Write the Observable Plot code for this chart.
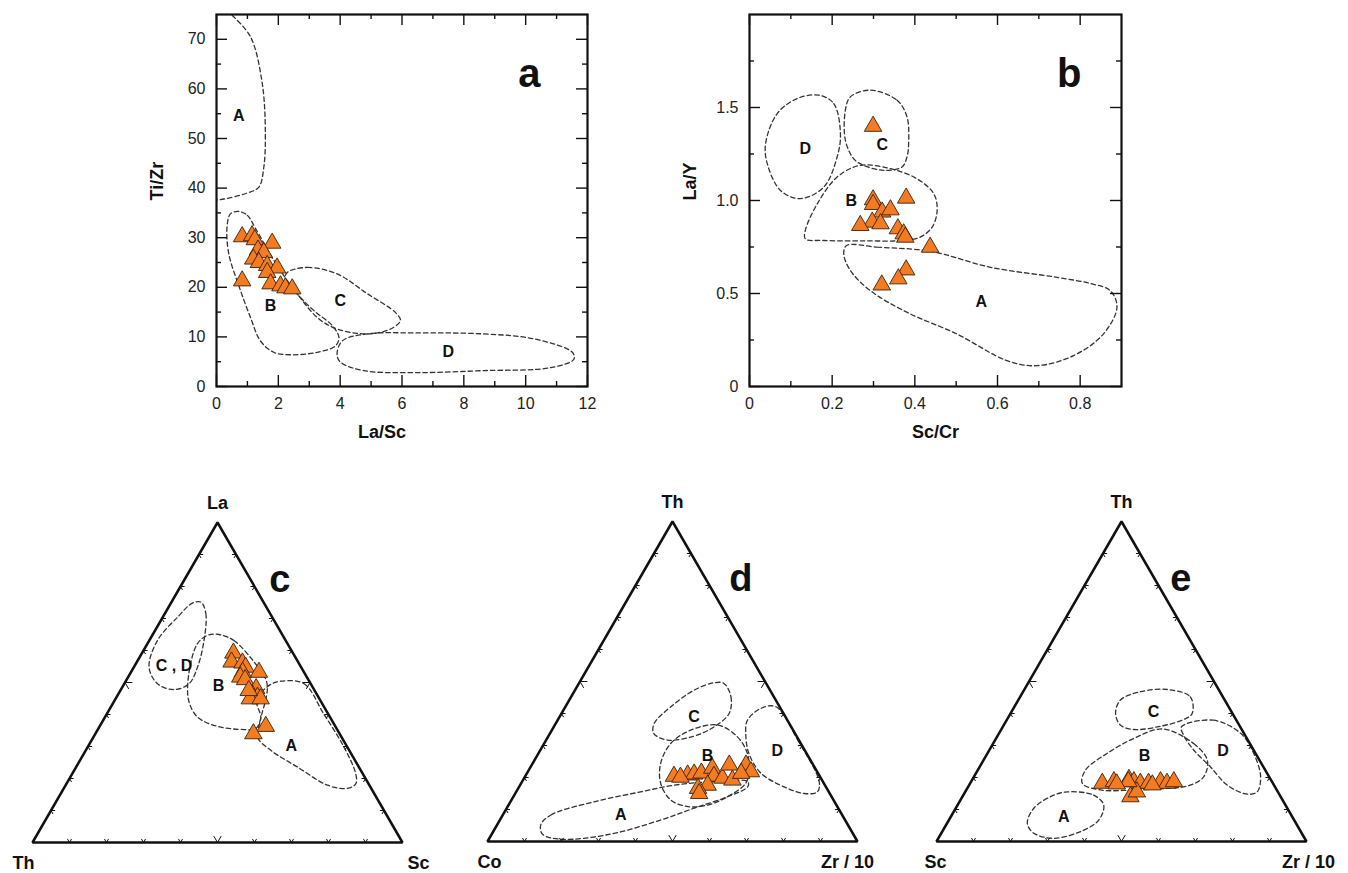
<!DOCTYPE html>
<html><head><meta charset="utf-8">
<script src="https://cdn.jsdelivr.net/npm/d3@7"></script>
<script src="https://cdn.jsdelivr.net/npm/@observablehq/plot@0.6"></script>
<style>
html,body{margin:0;padding:0;background:#fff;}
body{width:1348px;height:873px;position:relative;overflow:hidden;font-family:"Liberation Sans",Arial,Helvetica,sans-serif;}
.panel{position:absolute;}
</style></head><body>
<div id="pa" class="panel" style="left:130px;top:0px"></div>
<div id="pb" class="panel" style="left:670px;top:0px"></div>
<div id="pc" class="panel" style="left:0px;top:490px"></div>
<div id="pd" class="panel" style="left:450px;top:489px"></div>
<div id="pe" class="panel" style="left:900px;top:489px"></div>
<script>
// ---------- Panel a: La/Sc vs Ti/Zr ----------
const aLaSc = [0.83,1.15,1.24,1.80,1.34,1.53,1.19,1.37,1.64,1.96,1.64,1.75,2.07,2.23,2.45,0.83];
const aTiZr = [30.2,30.4,29.6,28.9,27.5,27.0,25.7,25.0,24.4,23.9,23.0,20.7,20.3,19.9,19.7,21.3];
const aFieldA = [[0.51,74.8],[1.10,70.5],[1.48,61.1],[1.58,51.0],[1.53,44.2],[1.37,40.2],[0.99,39.0],[0.24,37.8],[0,37.6]];
const aFieldB = [[0.72,35.3],[1.0,34.5],[1.25,32],[1.9,25],[2.61,18.7],[3.15,15.3],[3.74,12.3],[3.96,9.9],[3.85,8.2],[3.26,6.9],[2.39,6.4],[1.85,6.9],[1.42,9.2],[1.10,13.9],[0.74,20.0],[0.40,26.7],[0.34,32.1],[0.45,34.8]];
const aFieldC = [[2.29,23.0],[2.94,24.0],[3.90,22.7],[4.88,18.7],[5.79,14.9],[5.95,13.3],[5.63,11.6],[4.88,10.6],[3.90,11.6],[3.26,13.9],[2.61,18.7],[2.23,21.7]];
const aFieldD = [[3.90,6.5],[4.07,9.2],[4.88,10.6],[6.49,10.8],[8.65,10.6],[10.27,9.6],[11.51,6.9],[11.56,5.5],[10.81,3.8],[8.65,3.2],[6.49,2.8],[4.77,3.2],[4.01,4.9]];
const aLabelText = ["A","B","C","D"];
const aLabelX = [0.72,1.75,4.0,7.5];
const aLabelY = [54.6,16.2,17.3,6.9];
const aXTicks = [0,2,4,6,8,10,12];
const aXMinor = [1,3,5,7,9,11];
const aYTicks = [0,10,20,30,40,50,60,70];
const aYMinor = [5,15,25,35,45,55,65];

// ---------- Panel b: Sc/Cr vs La/Y ----------
const bScCr = [0.299,0.299,0.299,0.379,0.321,0.341,0.297,0.317,0.268,0.359,0.373,0.377,0.437,0.379,0.360,0.320];
const bLaY  = [1.399,1.004,0.979,1.013,0.938,0.950,0.884,0.875,0.866,0.848,0.821,0.803,0.749,0.627,0.579,0.546];
const bFieldD = [[0.168,1.566],[0.204,1.521],[0.220,1.359],[0.212,1.234],[0.180,1.073],[0.123,1.010],[0.075,1.054],[0.043,1.198],[0.039,1.306],[0.067,1.467],[0.115,1.548]];
const bFieldC = [[0.292,1.593],[0.357,1.539],[0.381,1.450],[0.385,1.306],[0.381,1.234],[0.369,1.180],[0.325,1.162],[0.276,1.189],[0.252,1.225],[0.232,1.324],[0.232,1.486],[0.244,1.557]];
const bFieldB = [[0.268,1.189],[0.341,1.171],[0.405,1.117],[0.446,1.036],[0.454,0.947],[0.442,0.857],[0.413,0.803],[0.373,0.785],[0.28,0.783],[0.180,0.785],[0.135,0.794],[0.135,0.839],[0.164,0.982],[0.212,1.126]];
const bFieldA = [[0.235,0.758],[0.309,0.749],[0.438,0.727],[0.583,0.641],[0.744,0.587],[0.824,0.554],[0.873,0.515],[0.889,0.426],[0.856,0.282],[0.784,0.166],[0.695,0.112],[0.623,0.139],[0.502,0.282],[0.381,0.399],[0.292,0.516],[0.244,0.624],[0.228,0.714]];
const bLabelText = ["D","C","B","A"];
const bLabelX = [0.135,0.321,0.246,0.561];
const bLabelY = [1.279,1.297,1.0,0.453];
const bXTicks = [0,0.2,0.4,0.6,0.8];
const bXMinor = [0.1,0.3,0.5,0.7];
const bYTicks = [0,0.5,1.0,1.5];
const bYMinor = [0.25,0.75,1.25,1.75];

// ---------- Ternary c: La (top) – Th (left) – Sc (right), [top, left, right] % ----------
const cSamples = [[59.2,16.1,24.7],[56.4,18.0,25.6],[56.1,15.2,28.7],[54.8,15.0,30.2],[53.2,12.2,34.6],[53.2,16.6,30.2],[51.7,18.0,30.3],[50.9,17.1,32.0],[48.1,15.5,36.4],[46.0,17.5,36.5],[45.4,16.5,38.1],[44.9,18.8,36.3],[44.9,15.9,39.2],[36.3,18.8,44.9],[34.0,23.3,42.7],[47.5,17.8,34.7]];
const cFieldCD = [[75.1,16.9,8.0],[71.5,17.4,11.1],[63.1,22.1,14.8],[54.8,28.0,17.2],[49.6,32.9,17.5],[47.8,37.8,14.4],[49.6,41.4,9.0],[54.8,41.1,4.1],[63.1,34.7,2.2],[70.4,25.6,4.0],[74.8,19.4,5.8]];
const cFieldB = [[65.0,17.1,17.9],[63.1,14.0,22.9],[56.4,11.9,31.7],[50.7,11.5,37.8],[47.5,12.8,39.7],[41.3,17.1,41.6],[35.6,21.8,42.6],[35.3,25.1,39.6],[36.3,31.9,31.8],[39.2,35.8,25.0],[44.4,35.6,20.0],[52.7,31.4,15.9],[62.1,24.4,13.5],[64.7,20.4,14.9]];
const cFieldA = [[50.4,7.7,41.9],[49.6,1.8,48.6],[40.3,1.2,58.5],[29.8,0.9,69.3],[21.5,1.9,76.6],[18.4,3.4,78.2],[16.9,6.4,76.7],[17.9,11.3,70.8],[23.6,16.6,59.8],[28.8,21.2,50.0],[33.0,22.7,44.3],[39.2,18.7,42.1],[44.4,17.2,38.4],[49.1,11.5,39.4]];
const cLabelText = ["C , D","B","A"];
const cLabelPos = [[55.3,34.1,10.6],[48.9,25.3,25.8],[30.1,15.0,54.9]];
const cVertices = ["La","Th","Sc"];

// ---------- Ternary d: Th (top) – Co (left) – Zr/10 (right) ----------
const dSamples = [[20.4,39.4,40.2],[20.8,35.5,43.7],[21.1,33.6,45.3],[21.4,31.5,47.1],[22.9,27.8,49.3],[20.4,28.6,51.0],[19.8,26.6,53.6],[23.9,22.7,53.4],[19.2,24.2,56.6],[23.9,18.2,57.9],[21.8,17.9,60.3],[21.3,20.8,57.9],[17.6,31.7,50.7],[16.6,34.8,48.6],[15.0,35.3,49.7],[20.1,37.8,42.1]];
const dFieldC = [[49.4,11.4,39.2],[45.2,11.6,43.2],[40.0,14.7,45.3],[35.8,20.9,43.3],[32.9,27.8,39.3],[31.7,35.5,32.8],[33.8,38.2,28.0],[36.9,36.5,26.6],[42.1,29.4,28.5],[47.3,20.5,32.2],[49.6,14.0,36.4]];
const dFieldB = [[36.4,19.6,44.0],[32.7,16.1,51.2],[27.5,16.0,56.5],[22.3,18.2,59.5],[18.2,21.1,60.7],[14.0,28.1,57.9],[11.4,34.8,53.8],[10.9,40.4,48.7],[13.0,44.0,43.0],[18.2,44.1,37.7],[24.4,41.0,34.6],[30.6,35.2,34.2],[34.8,27.7,37.5]];
const dFieldD = [[42.1,1.0,56.9],[31.7,0.3,68.0],[18.7,1.0,80.3],[15.5,3.1,81.4],[15.0,6.9,78.1],[16.6,10.6,72.8],[21.3,15.4,63.3],[27.5,15.6,56.9],[33.8,13.3,52.9],[37.9,10.8,51.3],[41.6,5.3,53.1]];
const dFieldA = [[5.2,83.0,11.8],[8.3,78.7,13.0],[12.4,65.0,22.6],[15.5,50.9,33.6],[17.6,40.8,41.6],[18.7,29.4,51.9],[18.7,20.3,61.0],[17.1,21.1,61.8],[14.0,28.1,57.9],[10.4,39.0,50.6],[6.7,49.9,43.4],[2.3,65.6,32.1],[0.7,79.8,19.5],[2.3,84.0,13.7]];
const dLabelText = ["C","B","D","A"];
const dLabelPos = [[39.0,24.7,36.3],[26.7,27.2,46.1],[28.3,7.5,64.2],[8.3,59.8,31.9]];
const dVertices = ["Th","Co","Zr / 10"];

// ---------- Ternary e: Th (top) – Sc (left) – Zr/10 (right) ----------
const eSamples = [[18.2,46.1,35.7],[18.7,42.7,38.6],[19.4,38.3,42.3],[18.7,37.3,44.0],[18.2,35.8,46.0],[18.2,33.6,48.2],[18.7,30.1,51.2],[18.2,28.6,53.2],[18.7,26.5,54.8],[14.0,40.6,45.4],[15.5,38.1,46.4],[18.7,38.8,42.5],[18.0,42.3,39.7],[17.7,32.8,49.5]];
const eFieldC = [[47.5,13.9,38.6],[45.2,8.8,46.0],[40.0,10.9,49.1],[38.1,14.2,47.7],[36.0,21.5,42.5],[35.0,29.2,35.8],[36.4,32.1,31.5],[40.0,31.6,28.4],[44.2,28.2,27.6],[46.8,21.5,31.7]];
const eFieldB = [[34.8,21.1,43.1],[30.6,15.2,54.2],[25.4,14.1,60.5],[20.2,17.7,62.1],[17.6,22.6,59.8],[16.6,29.3,54.1],[16.1,38.6,45.3],[16.1,47.6,36.3],[18.2,51.5,30.3],[22.3,48.6,29.1],[27.5,40.2,32.3],[32.2,30.6,37.2]];
const eFieldD = [[35.8,15.9,48.3],[37.9,6.2,55.9],[33.8,0.9,65.3],[27.5,0.5,72.0],[20.2,2.3,77.5],[15.5,5.6,78.9],[14.8,8.6,76.6],[17.6,12.6,69.8],[23.3,14.3,62.4],[28.6,16.2,55.2],[33.2,16.6,50.2]];
const eFieldA = [[15.5,57.0,27.5],[14.5,50.3,35.2],[11.4,49.1,39.5],[6.7,52.8,40.5],[3.1,59.5,37.4],[1.0,67.8,31.2],[2.6,72.4,25.0],[5.7,72.6,21.7],[10.4,68.5,21.1],[14.0,62.2,23.8]];
const eLabelText = ["C","B","D","A"];
const eLabelPos = [[40.5,21.1,38.4],[26.7,30.4,42.9],[28.3,8.4,63.3],[7.6,61.8,30.6]];
const eVertices = ["Th","Sc","Zr / 10"];

const ternTicks = [10,20,30,40,50,60,70,80,90];

// ---------- styles ----------
const FONT = '"Liberation Sans", Arial, Helvetica, sans-serif';
const INK = "#111";
const DASH = "#333";
const ORANGE = "#f47b20";
const EDGE = "#3a2210";

function fieldLine(pts, fx, fy, open) {
  return Plot.line(pts, {x: fx, y: fy, curve: open ? "catmull-rom" : "catmull-rom-closed",
    stroke: DASH, strokeWidth: 1.3, strokeDasharray: "4.5,3", clip: true});
}

function scatterPanel(cfg) {
  const width = 480, height = 460, mt = 14, mb = 74;
  const W = width - cfg.ml - cfg.mr, H = height - mt - mb;
  const tk = {stroke: INK, strokeWidth: 1.4};
  const pts = cfg.xs.map((x, i) => ({x, y: cfg.ys[i]}));
  const labs = cfg.labelText.map((t, i) => ({t, x: cfg.labelX[i], y: cfg.labelY[i]}));
  return Plot.plot({
    width, height, marginLeft: cfg.ml, marginRight: cfg.mr, marginTop: mt, marginBottom: mb,
    style: {fontFamily: FONT, fontSize: "16px", color: INK, background: "transparent"},
    x: {domain: cfg.xDomain}, y: {domain: cfg.yDomain},
    marks: [
      ...cfg.fields.map(f => fieldLine(f.pts, d => d[0], d => d[1], f.open)),
      Plot.tickX(cfg.xMajor, {x: d => d, insetTop: H - 11, ...tk}),
      Plot.tickX(cfg.xMajor, {x: d => d, insetBottom: H - 11, ...tk}),
      Plot.tickX(cfg.xMinor, {x: d => d, insetTop: H - 5, ...tk}),
      Plot.tickX(cfg.xMinor, {x: d => d, insetBottom: H - 5, ...tk}),
      Plot.tickY(cfg.yMajor, {y: d => d, insetRight: W - 11, ...tk}),
      Plot.tickY(cfg.yMajor, {y: d => d, insetLeft: W - 11, ...tk}),
      Plot.tickY(cfg.yMinor, {y: d => d, insetRight: W - 5, ...tk}),
      Plot.tickY(cfg.yMinor, {y: d => d, insetLeft: W - 5, ...tk}),
      Plot.axisX(cfg.xMajor, {tickSize: 0, tickPadding: 11, tickFormat: cfg.fmt, label: null, fill: "#222", fontSize: 16}),
      Plot.axisY(cfg.yMajor, {tickSize: 0, tickPadding: 11, tickFormat: cfg.fmt, label: null, fill: "#222", fontSize: 16}),
      Plot.frame({stroke: INK, strokeWidth: 2.2}),
      Plot.dot(pts, {x: "x", y: "y", symbol: "triangle", r: 6.5, fill: ORANGE, stroke: EDGE, strokeWidth: 0.9}),
      Plot.text(labs, {x: "x", y: "y", text: "t", fontSize: 16, fontWeight: "bold", fill: INK}),
      Plot.text([cfg.letter], {frameAnchor: "top-right", dx: cfg.letterDx, dy: 44, fontSize: 40, fontWeight: "bold", fill: INK}),
      Plot.text([cfg.xTitle], {frameAnchor: "bottom", dx: cfg.xTitleDx, dy: 51, fontSize: 18, fontWeight: "bold", fill: INK}),
      Plot.text([cfg.yTitle], {frameAnchor: "left", dx: -59, rotate: -90, fontSize: 18, fontWeight: "bold", fill: INK})
    ]
  });
}

const S3 = Math.sqrt(3) / 2;
function tern([t, l, r]) { const s = t + l + r; return {x: (r + t / 2) / s, y: (t / s) * S3}; }

function ternaryPanel(cfg) {
  const width = cfg.width, height = 383, ml = cfg.ml, side = 370;
  const segs = [];
  for (const v of ternTicks) {
    const f = v / 100, L = v === 50 ? 0.02 : 0.011;
    const edges = [
      {p: [f, 0], dirs: [[0.5, S3], [-0.5, S3]]},
      {p: [f / 2, f * S3], dirs: [[1, 0], [0.5, -S3]]},
      {p: [1 - f / 2, f * S3], dirs: [[-1, 0], [-0.5, -S3]]}
    ];
    for (const e of edges) for (const d of e.dirs)
      segs.push({x1: e.p[0], y1: e.p[1], x2: e.p[0] + d[0] * L, y2: e.p[1] + d[1] * L});
  }
  const verts = [[100, 0, 0], [0, 100, 0], [0, 0, 100]].map(tern);
  const vtx = (i, dx, dy) => Plot.text([{...verts[i], t: cfg.vertices[i]}],
    {x: "x", y: "y", text: "t", dx, dy, fontSize: 18, fontWeight: "bold", fill: INK});
  const labs = cfg.labelText.map((t, i) => ({...tern(cfg.labelPos[i]), t}));
  return Plot.plot({
    width, height, marginLeft: ml, marginRight: width - ml - side, marginTop: 32, marginBottom: 31,
    style: {fontFamily: FONT, fontSize: "16px", color: INK, background: "transparent"},
    x: {domain: [0, 1], axis: null}, y: {domain: [0, S3], axis: null},
    marks: [
      ...cfg.fields.map(f => fieldLine(f.map(tern), "x", "y", false)),
      Plot.line(verts, {x: "x", y: "y", curve: "linear-closed", stroke: INK, strokeWidth: 2.5, strokeLinejoin: "miter"}),
      Plot.link(segs, {x1: "x1", y1: "y1", x2: "x2", y2: "y2", stroke: INK, strokeWidth: 1}),
      Plot.dot(cfg.samples.map(tern), {x: "x", y: "y", symbol: "triangle", r: 6.5, fill: ORANGE, stroke: EDGE, strokeWidth: 0.9}),
      Plot.text(labs, {x: "x", y: "y", text: "t", fontSize: 16, fontWeight: "bold", fill: INK}),
      vtx(0, 0, -19), vtx(1, cfg.leftDx, 21), vtx(2, cfg.rightDx, 21),
      Plot.text([cfg.letter], {frameAnchor: "top-right", dx: cfg.letterDx, dy: 43, fontSize: 38, fontWeight: "bold", fill: INK})
    ]
  });
}

const fmtA = d => String(d);
const fmtB = d => d === 0 ? "0" : d.toFixed(1);

document.getElementById("pa").append(scatterPanel({
  ml: 86, mr: 23, xDomain: [0, 12], yDomain: [0, 75],
  xMajor: aXTicks, xMinor: aXMinor, yMajor: aYTicks, yMinor: aYMinor, fmt: fmtA,
  xs: aLaSc, ys: aTiZr,
  fields: [{pts: aFieldA, open: true}, {pts: aFieldB}, {pts: aFieldC}, {pts: aFieldD}],
  labelText: aLabelText, labelX: aLabelX, labelY: aLabelY,
  letter: "a", letterDx: -47, xTitle: "La/Sc", xTitleDx: -20, yTitle: "Ti/Zr"
}));
document.getElementById("pb").append(scatterPanel({
  ml: 79, mr: 29, xDomain: [0, 0.9], yDomain: [0, 2],
  xMajor: bXTicks, xMinor: bXMinor, yMajor: bYTicks, yMinor: bYMinor, fmt: fmtB,
  xs: bScCr, ys: bLaY,
  fields: [{pts: bFieldD}, {pts: bFieldC}, {pts: bFieldB}, {pts: bFieldA}],
  labelText: bLabelText, labelX: bLabelX, labelY: bLabelY,
  letter: "b", letterDx: -40, xTitle: "Sc/Cr", xTitleDx: 0, yTitle: "La/Y"
}));
document.getElementById("pc").append(ternaryPanel({
  width: 440, ml: 32, samples: cSamples, fields: [cFieldCD, cFieldB, cFieldA],
  labelText: cLabelText, labelPos: cLabelPos, vertices: cVertices,
  leftDx: -9, rightDx: 16, letter: "c", letterDx: -112
}));
document.getElementById("pd").append(ternaryPanel({
  width: 440, ml: 37, samples: dSamples, fields: [dFieldC, dFieldB, dFieldD, dFieldA],
  labelText: dLabelText, labelPos: dLabelPos, vertices: dVertices,
  leftDx: 2, rightDx: -10, letter: "d", letterDx: -105
}));
document.getElementById("pe").append(ternaryPanel({
  width: 448, ml: 36, samples: eSamples, fields: [eFieldC, eFieldB, eFieldD, eFieldA],
  labelText: eLabelText, labelPos: eLabelPos, vertices: eVertices,
  leftDx: -1, rightDx: 2, letter: "e", letterDx: -115
}));
</script>
</body></html>
